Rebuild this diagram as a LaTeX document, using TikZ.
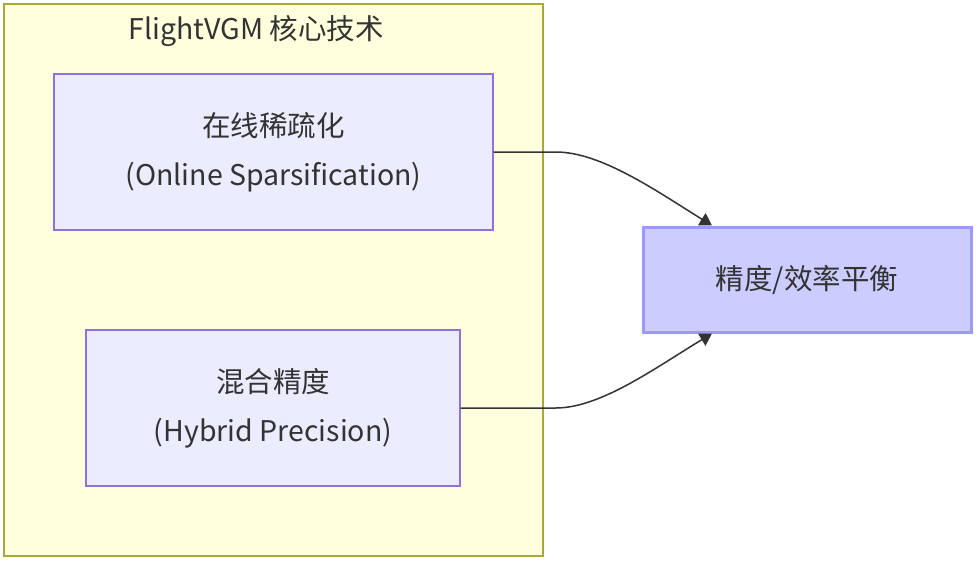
\documentclass[tikz,border=0pt]{standalone}
\usepackage{fontspec}
\setmainfont{Noto Sans CJK SC}
\usetikzlibrary{arrows.meta}
\definecolor{clusterfill}{HTML}{FFFFDE}
\definecolor{clusterline}{HTML}{AAAA33}
\definecolor{nodefill}{HTML}{ECECFF}
\definecolor{nodeline}{HTML}{9370DB}
\definecolor{goalfill}{HTML}{CCCCFF}
\definecolor{goalline}{HTML}{9999FF}
\definecolor{ink}{HTML}{333333}
\tikzset{
	tech/.style={draw=nodeline, fill=nodefill, line width=1.3pt, align=center, text=ink, inner sep=0pt},
	goal/.style={draw=goalline, fill=goalfill, line width=3pt, align=center, text=ink, inner sep=0pt},
	link/.style={draw=ink, line width=1.5pt, -{Triangle[length=12pt,width=14pt]}}
}
\begin{document}
\begin{tikzpicture}[x=1pt,y=-1pt,font=\fontsize{28.5}{49}\selectfont]
		\useasboundingbox (0,0) rectangle (976,562);
		\path[draw=clusterline, fill=clusterfill, line width=1.5pt] (4,4) rectangle (543,556);
		\path (256,31) node[text=ink] (title) {FlightVGM 核心技术};

		\path (273.5,152) node[tech, minimum width=439pt, minimum height=156pt] (sparse) {在线稀疏化\\(Online Sparsification)};
		\path (273,408) node[tech, minimum width=374pt, minimum height=156pt] (hybrid) {混合精度\\(Hybrid Precision)};
		\path (807,279.5) node[goal, minimum width=328pt, minimum height=105pt] (balance) {精度/效率平衡};

		\path[link] (sparse.east) -- ++(62,0) .. controls +(45,0) and (655,190) .. (balance.north -| 712,0);
		\path[link] (hybrid.east) -- ++(95,0) .. controls +(45,0) and (655,368) .. (balance.south -| 712,0);
	\end{tikzpicture}
\end{document}
